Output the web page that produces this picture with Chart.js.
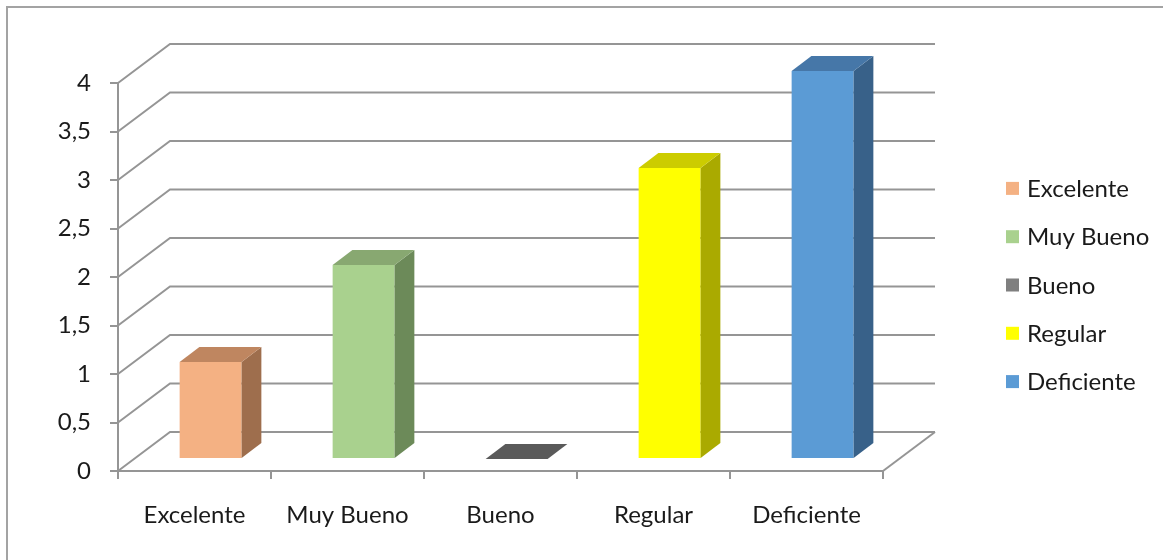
<!DOCTYPE html>
<html>
<head>
<meta charset="utf-8">
<script src="https://cdn.jsdelivr.net/npm/chart.js@4.4.1/dist/chart.umd.min.js"></script>
<style>
  html, body { margin: 0; padding: 0; background: #fff; }
  canvas { display: block; }
</style>
</head>
<body>
<canvas id="chart" width="1163" height="560"></canvas>
<script>
// categories and values
const categories = ['Excelente', 'Muy Bueno', 'Bueno', 'Regular', 'Deficiente'];
const values = [1, 2, 0, 3, 4];

// face colours per bar: front, top, side
const frontColors = ['#F4B183', '#A9D18E', '#7F7F7F', '#FFFF00', '#5B9BD5'];
const topColors = ['#BF8660', '#88A871', '#5A5A5A', '#CCCC00', '#4677A8'];
const sideColors = ['#9E6E4D', '#6C8A59', '#4A4A4A', '#AAAA00', '#386189'];

const yTicks = { min: 0, max: 4, step: 0.5 };

const FONT = 'Lato';
const FONT_SIZE = 24;
const TEXT_COLOR = '#1a1a1a';
const LINE_COLOR = '#959595';

// depth of the back wall, and where the bars sit inside it
const WALL = { dx: 52, dy: -39 };
const BAR_FRONT = 0.31;
const BAR_BACK = 0.69;

const box3d = {
    id: 'box3d',
    beforeDraw(chart) {
        // outer frame (top and left only)
        const ctx = chart.ctx;
        ctx.save();
        ctx.strokeStyle = '#a3a3a3';
        ctx.lineWidth = 2;
        ctx.beginPath();
        ctx.moveTo(7, chart.height);
        ctx.lineTo(7, 7);
        ctx.lineTo(chart.width, 7);
        ctx.stroke();
        ctx.restore();
    },
    beforeDatasetsDraw(chart) {
        const ctx = chart.ctx;
        const area = chart.chartArea;
        const y = chart.scales.y;

        // back wall gridlines with the slanted part on the side wall
        ctx.save();
        ctx.strokeStyle = LINE_COLOR;
        ctx.lineWidth = 2;
        y.ticks.forEach(t => {
            const py = y.getPixelForValue(t.value);
            ctx.beginPath();
            ctx.moveTo(area.left, py);
            ctx.lineTo(area.left + WALL.dx, py + WALL.dy);
            ctx.lineTo(area.right + WALL.dx, py + WALL.dy);
            ctx.stroke();
        });
        // right edge of the floor
        ctx.beginPath();
        ctx.moveTo(area.right, area.bottom);
        ctx.lineTo(area.right + WALL.dx, area.bottom + WALL.dy);
        ctx.stroke();
        ctx.restore();

        // push the front faces back into the box
        ctx.save();
        ctx.translate(WALL.dx * BAR_FRONT, WALL.dy * BAR_FRONT);
    },
    afterDatasetsDraw(chart) {
        const ctx = chart.ctx;
        ctx.restore();

        const ox = WALL.dx * BAR_FRONT, oy = WALL.dy * BAR_FRONT;
        const dx = WALL.dx * (BAR_BACK - BAR_FRONT), dy = WALL.dy * (BAR_BACK - BAR_FRONT);
        const meta = chart.getDatasetMeta(0);

        ctx.save();
        meta.data.forEach((bar, i) => {
            const p = bar.getProps(['x', 'y', 'base', 'width'], true);
            const l = p.x - p.width / 2 + ox;
            const r = p.x + p.width / 2 + ox;
            const t = p.y + oy;
            const b = p.base + oy;

            // side face
            if (b - t > 0.5) {
                ctx.fillStyle = sideColors[i];
                ctx.beginPath();
                ctx.moveTo(r, t);
                ctx.lineTo(r + dx, t + dy);
                ctx.lineTo(r + dx, b + dy);
                ctx.lineTo(r, b);
                ctx.closePath();
                ctx.fill();
            }
            // top face
            ctx.fillStyle = topColors[i];
            ctx.beginPath();
            ctx.moveTo(l, t);
            ctx.lineTo(l + dx, t + dy);
            ctx.lineTo(r + dx, t + dy);
            ctx.lineTo(r, t);
            ctx.closePath();
            ctx.fill();
        });
        ctx.restore();
    },
    afterDraw(chart) {
        // legend, one entry per category
        const ctx = chart.ctx;
        const x0 = 1006, yMid = 285, gap = 48.3, sq = 13;
        const n = categories.length;
        ctx.save();
        ctx.font = FONT_SIZE + 'px ' + FONT;
        ctx.textBaseline = 'middle';
        categories.forEach((c, i) => {
            const cy = yMid + (i - (n - 1) / 2) * gap;
            ctx.fillStyle = frontColors[i];
            ctx.fillRect(x0, cy - sq / 2, sq, sq);
            ctx.fillStyle = TEXT_COLOR;
            ctx.fillText(c, x0 + 21, cy + 1);
        });
        ctx.restore();
    }
};

Chart.defaults.font.family = FONT;
Chart.defaults.font.size = FONT_SIZE;
Chart.defaults.color = TEXT_COLOR;

new Chart(document.getElementById('chart'), {
    type: 'bar',
    data: {
        labels: categories,
        datasets: [{
            data: values,
            backgroundColor: frontColors,
            borderWidth: 0,
            barPercentage: 0.405,
            categoryPercentage: 1
        }]
    },
    options: {
        responsive: false,
        animation: false,
        layout: { padding: { top: 83, right: 280, bottom: 0, left: 0 } },
        plugins: {
            legend: { display: false },
            tooltip: { enabled: false }
        },
        scales: {
            x: {
                grid: {
                    offset: true,
                    drawOnChartArea: false,
                    tickLength: 8,
                    color: LINE_COLOR,
                    lineWidth: 2
                },
                border: { color: LINE_COLOR, width: 2 },
                ticks: { padding: 22, maxRotation: 0 },
                afterFit(scale) { scale.height = 89; }
            },
            y: {
                min: yTicks.min,
                max: yTicks.max,
                grid: {
                    drawOnChartArea: false,
                    tickLength: 8,
                    color: LINE_COLOR,
                    lineWidth: 2
                },
                border: { color: LINE_COLOR, width: 2 },
                ticks: {
                    stepSize: yTicks.step,
                    padding: 19,
                    callback: v => String(v).replace('.', ',')
                },
                afterFit(scale) { scale.width = 118; }
            }
        }
    },
    plugins: [box3d]
});
</script>
</body>
</html>
